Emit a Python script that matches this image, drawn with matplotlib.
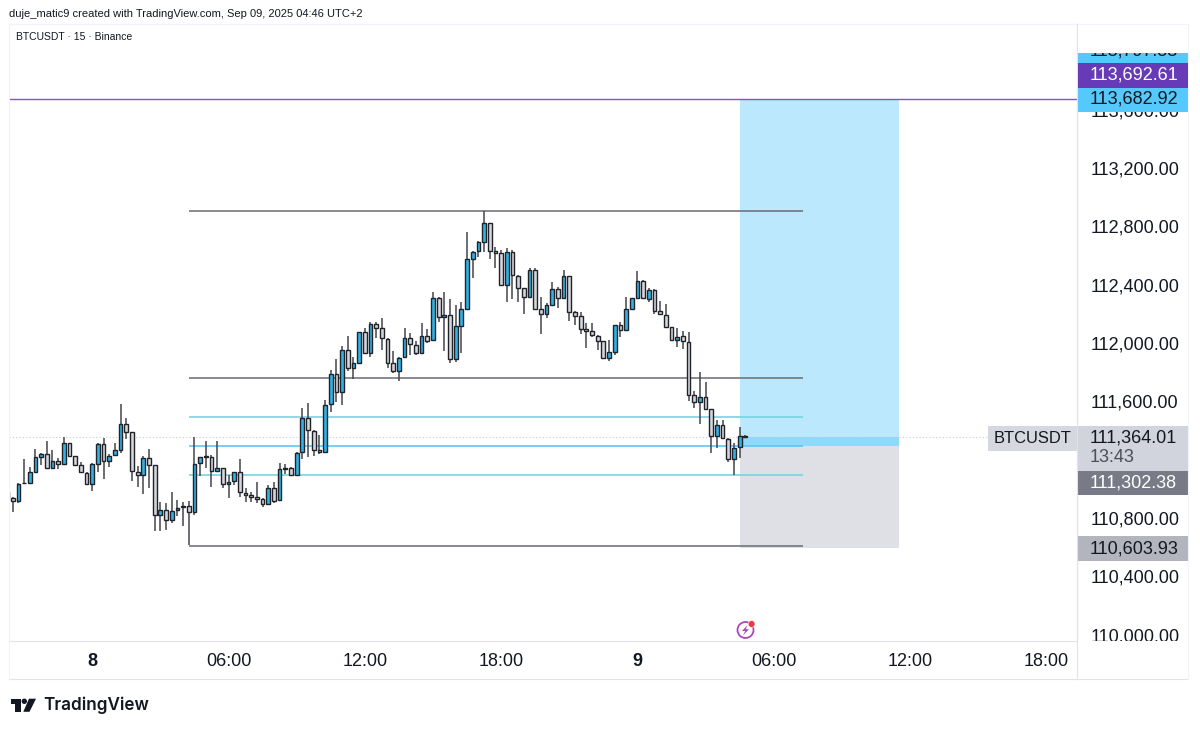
#!/usr/bin/env python3
"""
plot.py

BTCUSDT 15 minute candles with a fib tool and a long position, TradingView style.
"""

import matplotlib
matplotlib.use('Agg')
import matplotlib.pyplot as plt
import numpy as np

from matplotlib.patches import Circle, Polygon, Rectangle
from matplotlib.transforms import Affine2D

plt.rcParams['font.family'] = ['Liberation Sans', 'DejaVu Sans']

# Candles, first one is cut off by the left edge of the pane.
opens = [
    110988, 110943, 110924, 111050, 111046, 111123, 111226, 111249, 111153, 111201,
    111176, 111320, 111231, 111169, 111116, 111039, 111180, 111318, 111201, 111238,
    111272, 111455, 111395, 111126, 111105, 111222, 111171, 110831, 110861, 110794,
    110861, 110888, 110888, 110851, 111183, 111233, 111226, 111132, 111148, 111043,
    111059, 111126, 110982, 110968, 110952, 110938, 110904, 111016, 110929, 111153,
    111153, 111105, 111258, 111493, 111407, 111272, 111258, 111589, 111795, 111671,
    111959, 111834, 111868, 112083, 111941, 112135, 112108, 112034, 111868, 111815,
    111909, 112041, 111996, 111936, 112057, 112025, 112318, 112185, 112199, 111895,
    112126, 112238, 112583, 112638, 112697, 112827, 112638, 112622, 112407, 112633,
    112467, 112387, 112323, 112510, 112240, 112206, 112270, 112375, 112318, 112467,
    112217, 112190, 112105, 112087, 112057, 112023, 111907, 111948, 112130, 112094,
    112243, 112313, 112434, 112311, 112370, 112224, 112201, 112119, 112028, 112053,
    112016, 111651, 111600, 111637, 111552, 111370, 111443, 111351, 111210, 111292,
    111372,
]
highs = [
    110988, 110954, 111050, 111210, 111155, 111281, 111251, 111334, 111272, 111217,
    111361, 111324, 111233, 111192, 111121, 111183, 111320, 111354, 111247, 111320,
    111589, 111491, 111400, 111164, 111231, 111281, 111174, 110920, 110909, 110984,
    110931, 110920, 110927, 111361, 111228, 111338, 111240, 111336, 111148, 111103,
    111126, 111210, 111011, 110988, 111052, 110943, 111034, 111055, 111187, 111178,
    111155, 111263, 111564, 111599, 111409, 111377, 111617, 111822, 111898, 111989,
    112055, 111909, 112083, 112108, 112149, 112149, 112176, 112039, 111952, 111909,
    112112, 112078, 112021, 112142, 112103, 112359, 112325, 112355, 112307, 112268,
    112291, 112771, 112638, 112709, 112914, 112832, 112668, 112645, 112661, 112645,
    112471, 112387, 112519, 112519, 112320, 112284, 112428, 112389, 112508, 112469,
    112229, 112222, 112142, 112142, 112062, 112023, 112028, 112130, 112154, 112320,
    112313, 112503, 112439, 112386, 112375, 112295, 112272, 112119, 112108, 112092,
    112085, 111680, 111811, 111737, 111555, 111479, 111479, 111354, 111319, 111434,
    111376,
]
lows = [
    110943, 110851, 110909, 111046, 111041, 111119, 111171, 111151, 111151, 111142,
    111174, 111231, 111169, 111116, 111036, 110995, 111126, 111073, 111160, 111235,
    111251, 111350, 111064, 111018, 110970, 111011, 110721, 110721, 110726, 110771,
    110824, 110755, 110623, 110829, 111096, 111148, 111023, 111126, 111016, 110943,
    111034, 110954, 110920, 110920, 110909, 110886, 110897, 110909, 110927, 111110,
    111100, 111103, 111212, 111224, 111233, 111247, 111256, 111534, 111605, 111582,
    111818, 111758, 111868, 111936, 111914, 112039, 111959, 111834, 111799, 111747,
    111902, 111925, 111925, 111936, 112005, 112025, 112149, 111955, 111868, 111875,
    111941, 112238, 112455, 112594, 112629, 112583, 112519, 112407, 112286, 112307,
    112291, 112204, 112323, 112243, 112069, 112176, 112270, 112245, 112318, 112158,
    112130, 112069, 111971, 112051, 111959, 111902, 111886, 111925, 112046, 112094,
    112243, 112313, 112313, 112286, 112204, 112199, 112119, 112028, 111982, 111964,
    111612, 111559, 111452, 111557, 111251, 111285, 111354, 111194, 111102, 111216,
    111358,
]
closes = [
    110943, 110924, 111041, 111046, 111121, 111224, 111247, 111153, 111201, 111176,
    111320, 111233, 111171, 111121, 111039, 111178, 111318, 111201, 111235, 111272,
    111455, 111395, 111128, 111103, 111219, 111174, 110831, 110861, 110794, 110856,
    110879, 110881, 110851, 111178, 111226, 111228, 111132, 111148, 111043, 111057,
    111123, 110984, 110968, 110954, 110938, 110902, 111014, 110927, 111142, 111146,
    111103, 111256, 111493, 111409, 111272, 111258, 111585, 111795, 111673, 111959,
    111834, 111868, 112083, 111941, 112135, 112108, 112039, 111873, 111815, 111907,
    112041, 111998, 111936, 112057, 112021, 112318, 112188, 112199, 111895, 112124,
    112238, 112583, 112633, 112697, 112827, 112638, 112622, 112407, 112633, 112471,
    112387, 112323, 112510, 112243, 112206, 112270, 112375, 112318, 112467, 112220,
    112190, 112105, 112087, 112062, 112023, 111902, 111946, 112130, 112094, 112240,
    112313, 112432, 112313, 112370, 112226, 112204, 112119, 112028, 112051, 112019,
    111653, 111600, 111637, 111557, 111370, 111443, 111354, 111210, 111290, 111372,
    111364,
]

# Horizontal levels.
fib_levels = [112912, 111767, 111500, 111301, 111102, 110616]
purple_level = 113692.61
target_price = 113682.92
entry_price = 111302.38
stop_price = 110603.93
last_price = 111364.01

# Axis ticks, positions are bar numbers. 111,200 sits under the last price tag.
time_ticks = [14, 38, 62, 86, 110, 134, 158, 182]
time_labels = ['8', '06:00', '12:00', '18:00', '9', '06:00', '12:00', '18:00']
price_ticks = [110000, 110400, 110800, 111600, 112000, 112400, 112800,
               113200, 113600]

BLUE = '#2fb4ea'
GREY = '#d5d7de'
EDGE = '#222328'
WIDTH, HEIGHT = 1200, 731

fig = plt.figure(figsize=(WIDTH / 100, HEIGHT / 100), dpi=100, facecolor='white')
ax = fig.add_axes([9 / WIDTH, (HEIGHT - 641) / HEIGHT, 1068 / WIDTH, 617 / HEIGHT])
ax.set_xlim(-0.651, 187.4)
ax.set_ylim(109964, 114194)

bars = np.arange(len(opens)) - 1
opens = np.array(opens)
closes = np.array(closes)
colors = [BLUE if c > o else GREY for o, c in zip(opens, closes)]

# Long position box, then its open profit strip.
ax.axhspan(entry_price, target_price, xmin=(128 + 0.651) / 188.051,
           xmax=(156 + 0.651) / 188.051, color='#bbe8fd', lw=0, zorder=1)
ax.axhspan(stop_price, entry_price, xmin=(128 + 0.651) / 188.051,
           xmax=(156 + 0.651) / 188.051, color='#dfe0e5', lw=0, zorder=1)
ax.axhspan(entry_price, last_price, xmin=(128 + 0.651) / 188.051,
           xmax=(156 + 0.651) / 188.051, color='#8fd9fb', lw=0, zorder=1.1)

ax.axhline(last_price, color='#c8cad2', lw=0.8, ls=(0, (1, 2)), zorder=1.2)
ax.axhline(target_price, color='#7e57c2', lw=1.0, zorder=1.5)

fib_colors = ['#6f7078', '#6f7078', '#72d3e2', '#56c5f5', '#72d3e2', '#6f7078']
ax.hlines(fib_levels, 31, 139.1, colors=fib_colors, lw=1.15, zorder=2)

ax.vlines(bars, lows, highs, color='#44454c', lw=1.1, zorder=3)
ax.bar(bars, closes - opens, bottom=opens, width=0.66, color=colors,
       edgecolor=EDGE, linewidth=1.0, zorder=4)

ax.set_xticks(time_ticks)
ax.set_xticklabels(time_labels)
ax.set_yticks(price_ticks)
ax.set_yticklabels([f'{p:,.2f}' for p in price_ticks], va='center')
ax.yaxis.tick_right()
ax.tick_params(axis='x', length=0, pad=8.3, labelsize=13, labelcolor='#131722')
ax.tick_params(axis='y', length=0, pad=9.5, labelsize=13, labelcolor='#131722')
for label in ax.get_xticklabels():
    if label.get_text() in ('8', '9'):
        label.set_fontweight('bold')

# Nudge the price labels down a pixel.
for label in ax.get_yticklabels():
    label.set_transform(label.get_transform() + Affine2D().translate(0, -1))

for side in ax.spines:
    ax.spines[side].set_color('#e0e3eb')
    ax.spines[side].set_linewidth(0.8)
ax.spines['top'].set_color('#f0f3fa')
ax.spines['left'].set_color('#f0f3fa')

# Everything outside the pane goes on an overlay in pixel units.
px = fig.add_axes([0, 0, 1, 1], facecolor='none')
px.set_xlim(0, WIDTH)
px.set_ylim(HEIGHT, 0)
px.axis('off')


def box(x0, y0, x1, y1, color, zorder=2):
    px.add_patch(Rectangle((x0, y0), x1 - x0, y1 - y0, facecolor=color,
                           edgecolor='none', zorder=zorder))


def tag(text, y, color='#131722', size=13, x=1090, zorder=4):
    px.text(x, y, text, color=color, fontsize=size, va='center', ha='left',
            zorder=zorder)


# Price scale tags, stacked the way TradingView pushes them apart.
box(1078, 39, 1188, 63, '#55c8fc')
tag('113,797.83', 50.5, zorder=3)
box(1078, 24.5, 1188, 53, 'white', zorder=3.5)
box(1078, 87, 1188, 111.5, '#55c8fc')
tag(f'{target_price:,.2f}', 99)
box(1078, 63, 1188, 87.5, '#673ab7', zorder=3)
tag(f'{purple_level:,.2f}', 74.5, color='white')

box(988, 426, 1077, 451, '#d6d8e0')
px.text(1032.5, 438.5, 'BTCUSDT', color='#131722', fontsize=11.9, ha='center',
        va='center', zorder=4)
box(1078, 426, 1188, 471, '#d1d4dc')
tag(f'{last_price:,.2f}', 438)
tag('13:43', 457, color='#4c4f59')
box(1078, 471, 1188, 495, '#787b86')
tag(f'{entry_price:,.2f}', 483, color='white')
box(1078, 536, 1188, 561, '#b2b5be')
tag(f'{stop_price:,.2f}', 548.5)

# The 110,000 label gets cut by the time scale.
box(1078, 641, 1188, 678, 'white')

# Frame around the scales.
px.plot([9, 1188], [23.5, 23.5], color='#f0f3fa', lw=0.8)
px.plot([9, 1188], [679, 679], color='#e0e3eb', lw=0.8)
px.plot([1077, 1077], [24, 679], color='#e0e3eb', lw=0.8)
px.plot([1188, 1188], [24, 679], color='#f0f3fa', lw=0.8)
px.plot([9, 9], [24, 679], color='#f0f3fa', lw=0.8)
px.plot([1080, 1186], [49, 49], color='#f0f3fa', lw=0.8)

# Header texts.
px.text(9, 14, 'duje_matic9 created with TradingView.com, Sep 09, 2025 04:46 UTC+2',
        color='#131722', fontsize=8.05, va='center')
px.text(16, 37, 'BTCUSDT · 15 · Binance', color='#131722', fontsize=7.5, va='center')
px.text(1088, 37.5, 'USDT', color='#131722', fontsize=7.8, va='center')

# Lightning icon on the time line.
px.add_patch(Circle((745.5, 630), 8, facecolor='none', edgecolor='#ab47bc', lw=1.3))
px.add_patch(Polygon([(747.5, 625), (742, 631), (745.3, 631), (743, 635.5),
                      (749, 629.2), (745.7, 629.2)], facecolor='#ab47bc',
                     edgecolor='none'))
px.add_patch(Circle((751.6, 624), 3.4, facecolor='#f23645', edgecolor='white', lw=0.4))

# TradingView logo.
logo = '#131722'
px.add_patch(Polygon([(10.5, 698.7), (20.5, 698.7), (20.5, 711.8), (15, 711.8),
                      (15, 704), (10.5, 704)], facecolor=logo, edgecolor='none'))
px.add_patch(Circle((24.3, 701.3), 2.7, facecolor=logo, edgecolor='none'))
px.add_patch(Polygon([(29, 698.7), (36, 698.7), (29.5, 711.8), (23.3, 711.8)],
                     facecolor=logo, edgecolor='none'))
px.text(43, 705, 'TradingView', color=logo, fontsize=12.3, fontfamily='Inter',
        fontweight='semibold', va='center')

fig.savefig('out.png', dpi=100)
